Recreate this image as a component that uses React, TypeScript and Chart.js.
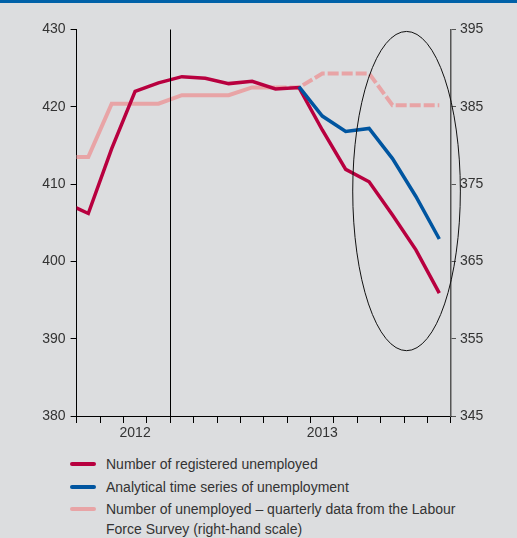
import React, { useEffect, useRef } from 'react';
import { Chart, registerables } from 'chart.js';

Chart.register(...registerables);

// Monthly categories (first one lies left of the visible range; its segment is clipped at the axis)
const months = [
  'Jul 2012', 'Aug 2012', 'Sep 2012', 'Oct 2012', 'Nov 2012', 'Dec 2012',
  'Jan 2013', 'Feb 2013', 'Mar 2013', 'Apr 2013', 'May 2013', 'Jun 2013',
  'Jul 2013', 'Aug 2013', 'Sep 2013', 'Oct 2013', 'Nov 2013',
];

// Year labels shown under the axis, placed on a category
const yearLabels = [
  { at: 'Oct 2012', text: '2012' },
  { at: 'Jun 2013', text: '2013' },
];

// Series (thousands)
const registeredUnemployed = [
  407.6, 406.2, 414.6, 422.0, 423.1, 423.9, 423.7, 423.0, 423.3, 422.3, 422.5,
  417.0, 411.9, 410.3, 406.0, 401.5, 395.9,
];
const analyticalSeries = [
  null, null, null, null, null, null, null, null, null, null, 422.6,
  418.8, 416.8, 417.2, 413.3, 408.4, 402.9,
];
const lfsQuarterly = [
  378.5, 378.5, 385.4, 385.4, 385.4, 386.5, 386.5, 386.5, 387.5, 387.5, 387.5,
  389.3, 389.3, 389.3, 385.2, 385.2, 385.2,
];
// LFS points from this category on are drawn dashed
const lfsDashedFrom = 'May 2013';

// Axis ranges
const leftAxis = { min: 380, max: 430, step: 10 };
const rightAxis = { min: 345, max: 395, step: 10 };

// Vertical divider after this category
const dividerAfter = 'Nov 2012';

// Highlight ellipse in data units (category position / left-axis values)
const highlight = { xCenter: 14.6, xRadius: 2.3, yCenter: 409.1, yRadius: 20.65 };

const legendItems = [
  { label: 'Number of registered unemployed', color: '#b8003f' },
  { label: 'Analytical time series of unemployment', color: '#0055a0' },
  { label: 'Number of unemployed – quarterly data from the Labour Force Survey (right-hand scale)', color: '#e8a4a6' },
];

const FONT = '"Liberation Sans", Arial, sans-serif';

export default function App() {
  const canvasRef = useRef<HTMLCanvasElement | null>(null);

  useEffect(() => {
    document.body.style.margin = '0';
    const canvas = canvasRef.current;
    if (!canvas) return;

    const overlay = {
      id: 'overlay',
      afterDatasetsDraw(chart: any) {
        const { ctx, chartArea, scales } = chart;
        const x = scales.x;
        const y = scales.y;
        ctx.save();
        // divider
        const dv = months.indexOf(dividerAfter) + 0.5;
        const dx = Math.round(x.getPixelForValue(dv)) + 0.5;
        ctx.strokeStyle = '#000';
        ctx.lineWidth = 1;
        ctx.beginPath();
        ctx.moveTo(dx, chartArea.top);
        ctx.lineTo(dx, chartArea.bottom);
        ctx.stroke();
        // ellipse
        const cx = x.getPixelForValue(highlight.xCenter);
        const rx = Math.abs(x.getPixelForValue(highlight.xCenter + highlight.xRadius) - cx);
        const cy = y.getPixelForValue(highlight.yCenter);
        const ry = Math.abs(y.getPixelForValue(highlight.yCenter + highlight.yRadius) - cy);
        ctx.beginPath();
        ctx.ellipse(cx, cy, rx, ry, 0, 0, Math.PI * 2);
        ctx.strokeStyle = '#111';
        ctx.lineWidth = 1;
        ctx.stroke();
        ctx.restore();
      },
    };

    const dashIdx = months.indexOf(lfsDashedFrom) - 1;

    const chart = new Chart(canvas, {
      type: 'line',
      data: {
        labels: months,
        datasets: [
          {
            label: legendItems[2].label,
            data: lfsQuarterly,
            yAxisID: 'y1',
            borderColor: '#e8a4a6',
            borderWidth: 4,
            pointRadius: 0,
            tension: 0,
            order: 3,
            segment: {
              borderDash: (ctx: any) => (ctx.p0DataIndex >= dashIdx ? [11, 3] : undefined),
            },
          },
          {
            label: legendItems[0].label,
            data: registeredUnemployed,
            yAxisID: 'y',
            borderColor: '#b8003f',
            borderWidth: 3.5,
            pointRadius: 0,
            tension: 0,
            order: 2,
          },
          {
            label: legendItems[1].label,
            data: analyticalSeries,
            yAxisID: 'y',
            borderColor: '#0055a0',
            borderWidth: 3.5,
            pointRadius: 0,
            tension: 0,
            order: 1,
          },
        ],
      },
      options: {
        animation: false,
        responsive: false,
        devicePixelRatio: 1,
        layout: { padding: { top: 29.5, left: 0, right: 0, bottom: 0 } },
        plugins: { legend: { display: false }, tooltip: { enabled: false } },
        scales: {
          x: {
            type: 'category',
            min: 1,
            offset: true,
            grid: { offset: true, drawOnChartArea: false, drawTicks: true, tickLength: 7, color: '#000', lineWidth: 1 },
            border: { display: true, color: '#000', width: 1 },
            ticks: {
              autoSkip: false,
              maxRotation: 0,
              padding: 2,
              color: '#333',
              font: { family: FONT, size: 14 },
              callback: (val: any) => {
                const name = months[val as number];
                const found = yearLabels.find((l) => l.at === name);
                return found ? found.text : '';
              },
            },
            afterFit: (s: any) => { s.height = 29; },
          },
          y: {
            type: 'linear',
            position: 'left',
            min: leftAxis.min,
            max: leftAxis.max,
            grid: { drawOnChartArea: false, drawTicks: true, tickLength: 6, color: '#000', lineWidth: 1 },
            border: { display: true, color: '#000', width: 1 },
            ticks: { stepSize: leftAxis.step, padding: 5, color: '#333', font: { family: FONT, size: 14 } },
            afterFit: (s: any) => { s.width = 76.6; },
          },
          y1: {
            type: 'linear',
            position: 'right',
            min: rightAxis.min,
            max: rightAxis.max,
            grid: { drawOnChartArea: false, drawTicks: true, tickLength: 5, color: '#555', lineWidth: 1 },
            border: { display: true, color: '#555', width: 1.5 },
            ticks: { stepSize: rightAxis.step, padding: 4, color: '#333', font: { family: FONT, size: 14 } },
            afterFit: (s: any) => { s.width = 66; },
          },
        },
      },
      plugins: [overlay],
    } as any);

    return () => chart.destroy();
  }, []);

  return (
    <div style={{ position: 'relative', width: 517, height: 538, background: '#dcdddf', overflow: 'hidden', fontFamily: FONT }}>
      <canvas ref={canvasRef} width={517} height={445} style={{ position: 'absolute', left: 0, top: 0, width: 517, height: 445 }} />
      <div style={{ position: 'absolute', left: 0, top: 0, width: 517, height: 3, background: '#0061a8' }} />
      <div style={{ position: 'absolute', left: 0, top: 454, width: 517, fontSize: 14, color: '#333' }}>
        {legendItems.map((item) => (
          <div key={item.label} style={{ position: 'relative', paddingLeft: 106, width: 360, lineHeight: '20px', marginBottom: 2.5 }}>
            <span style={{ position: 'absolute', left: 70, top: 8, width: 26, height: 4, borderRadius: 2, background: item.color }} />
            {item.label}
          </div>
        ))}
      </div>
    </div>
  );
}
